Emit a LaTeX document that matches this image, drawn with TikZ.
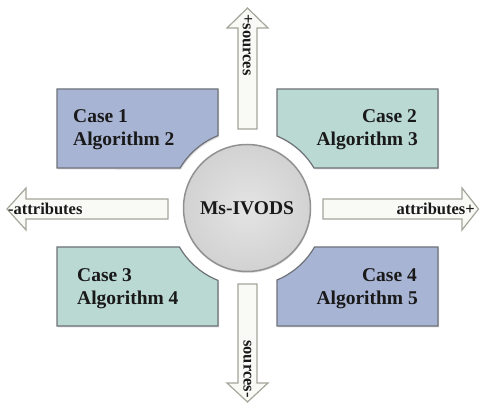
\documentclass[tikz,border=0pt]{standalone}
\usepackage{fontspec}
\setmainfont{Liberation Serif}
\usetikzlibrary{shadows}
\definecolor{caseblue}{RGB}{168,180,212}
\definecolor{caseteal}{RGB}{186,217,211}
\definecolor{boxedge}{RGB}{110,114,120}
\definecolor{arrowfill}{RGB}{249,249,246}
\definecolor{arrowedge}{RGB}{165,165,155}
\definecolor{hubin}{RGB}{228,228,228}
\definecolor{hubout}{RGB}{210,210,210}
\definecolor{hubedge}{RGB}{145,145,145}
\definecolor{txt}{RGB}{25,25,25}
\begin{document}
\begin{tikzpicture}[x=1pt,y=-1pt,
  casebox/.style={draw=boxedge, line width=1.2pt, line join=miter,
    drop shadow={opacity=0.3, shadow xshift=1pt, shadow yshift=-1.5pt}},
  blockarrow/.style={fill=arrowfill, draw=arrowedge, line width=1.2pt, line join=miter},
  casetext/.style={font=\bfseries\fontsize{19.5}{23}\selectfont, text=txt, inner sep=0pt},
  arrowtext/.style={font=\bfseries\fontsize{16.5}{19}\selectfont, text=txt, inner sep=0pt}]
\useasboundingbox (0,0) rectangle (480,403);

% case boxes with concave cut around the hub
\path[casebox, fill=caseblue] (57,89) -- (218,89) -- (218,135.6)
  arc[start angle=-111.83, end angle=-149.15, radius=78] -- (57,168) -- cycle;
\path[casebox, fill=caseteal] (438,89) -- (277,89) -- (277,136)
  arc[start angle=-67.38, end angle=-30.85, radius=78] -- (438,168) -- cycle;
\path[casebox, fill=caseteal] (57,247) -- (179.45,247)
  arc[start angle=150, end angle=111.83, radius=78] -- (218,326) -- (57,326) -- cycle;
\path[casebox, fill=caseblue] (438,247) -- (314.55,247)
  arc[start angle=30, end angle=67.38, radius=78] -- (277,326) -- (438,326) -- cycle;

% block arrows
\draw[blockarrow] (238,129) -- (238,28) -- (227,28) -- (247.5,8) -- (268,28) -- (257,28) -- (257,129) -- cycle;
\draw[blockarrow] (238,284) -- (238,383) -- (227,383) -- (247.5,402) -- (268,383) -- (257,383) -- (257,284) -- cycle;
\draw[blockarrow] (168,199) -- (26,199) -- (26,188) -- (7,209) -- (26,230) -- (26,219) -- (168,219) -- cycle;
\draw[blockarrow] (323,199) -- (462,199) -- (462,188) -- (478.5,209) -- (462,230) -- (462,219) -- (323,219) -- cycle;

% hub
\node[circle, minimum size=127pt, inner sep=0pt, inner color=hubin, outer color=hubout,
  draw=hubedge, line width=1.5pt, drop shadow={opacity=0.25, shadow xshift=0.5pt, shadow yshift=-1.5pt},
  font=\bfseries\fontsize{19.5}{23}\selectfont, text=txt] (hub) at (247,208) {Ms-IVODS};

% case texts
\node[casetext, anchor=base west] (c1a) at (73,123) {Case 1};
\node[casetext, anchor=base west] (c1b) at (73,146) {Algorithm 2};
\node[casetext, anchor=base east] (c2a) at (417,123) {Case 2};
\node[casetext, anchor=base east] (c2b) at (418,146) {Algorithm 3};
\node[casetext, anchor=base west] (c3a) at (77,282) {Case 3};
\node[casetext, anchor=base west] (c3b) at (77,305) {Algorithm 4};
\node[casetext, anchor=base east] (c4a) at (417,282) {Case 4};
\node[casetext, anchor=base east] (c4b) at (418,305) {Algorithm 5};

% arrow labels
\node[arrowtext, anchor=west] (lt) at (8,209) {-attributes};
\node[arrowtext, anchor=east] (rt) at (475,209) {attributes+};
\node[arrowtext, rotate=-90] (tp) at (247.5,45) {+sources};
\node[arrowtext, rotate=-90] (bt) at (247.5,369) {sources-};
\end{tikzpicture}
\end{document}
